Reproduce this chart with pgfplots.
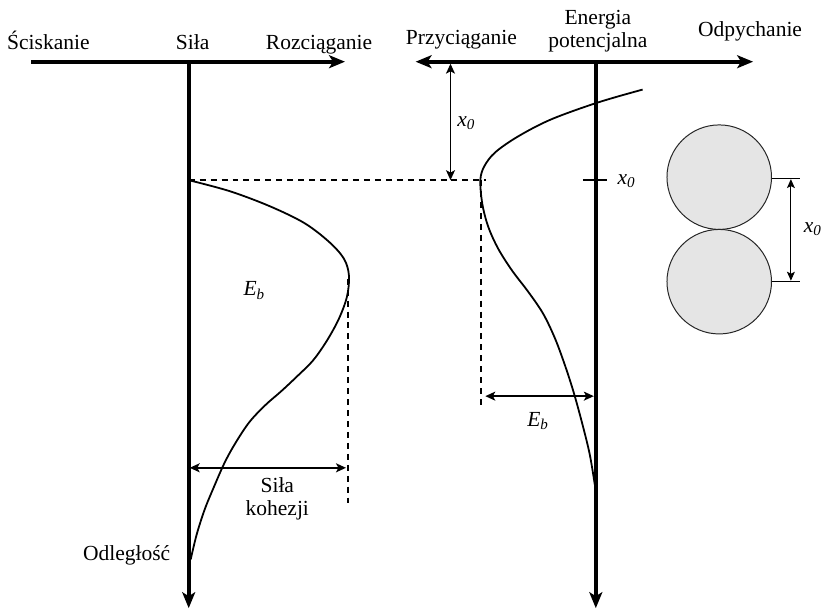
\documentclass[border=0pt]{standalone}
\usepackage{fontspec}
\setmainfont{Liberation Serif}
\usepackage{pgfplots}
\pgfplotsset{compat=1.18}
\usetikzlibrary{arrows.meta}
\begin{document}
\fontsize{10.8}{13}\selectfont
\begin{tikzpicture}
\begin{axis}[
  width=414.5pt, height=307pt, scale only axis,
  xmin=0, xmax=829, ymin=0, ymax=614, y dir=reverse,
  axis lines=none, clip=false,
  every node/.append style={font=\fontsize{10.8}{13}\selectfont, inner sep=1pt},
]
\tikzset{
  bigarrow/.style={line width=2pt, -{Stealth[length=8pt,width=6.5pt,inset=2pt]}},
  bigboth/.style={line width=2pt, {Stealth[length=8pt,width=6.5pt,inset=2pt]}-{Stealth[length=8pt,width=6.5pt,inset=2pt]}},
  smallboth/.style={line width=0.8pt, {Stealth[length=5pt,width=4.5pt,inset=1.2pt]}-{Stealth[length=5pt,width=4.5pt,inset=1.2pt]}},
  mydash/.style={line width=0.9pt, dash pattern=on 3pt off 2.5pt},
}
\path[draw=none] (axis cs:0,0) rectangle (axis cs:829,614);
% ---------- left diagram ----------
\addplot[bigarrow, mark=none] coordinates {(31,62) (346,62)};
\addplot[bigarrow, mark=none] coordinates {(189,61) (189,611)};
\addplot[mydash, mark=none] coordinates {(189,181) (488,181)};
\addplot[mydash, mark=none] coordinates {(349,280) (349,505)};
\addplot[line width=0.9pt, smooth, mark=none, tension=0.55] coordinates {
 (189,181) (230,192) (270,207) (305,224) (330,243) (345,260) (350,277)
 (348,298) (340,320) (328,342) (314,362) (298,378) (282,393) (266,407)
 (250,424) (236,445) (225,465) (214,490) (205,512) (197,537) (191,562)};
\addplot[smallboth, mark=none] coordinates {(190,470) (347,470)};
\node[anchor=base] at (axis cs:48,50) {Ściskanie};
\node[anchor=base] at (axis cs:193,50) {Siła};
\node[anchor=base] at (axis cs:320,50) {Rozciąganie};
\node at (axis cs:255,292) {\textit{E}\textsubscript{\textit{b}}};
\node[anchor=base] at (axis cs:278,495) {Siła};
\node[anchor=base] at (axis cs:278,518) {kohezji};
\node[anchor=base east] at (axis cs:178,563) {Odległość};
% ---------- right diagram ----------
\addplot[bigboth, mark=none] coordinates {(417,62) (756,62)};
\addplot[bigarrow, mark=none] coordinates {(598,61) (598,611)};
\addplot[mydash, mark=none] coordinates {(483,181) (483,407)};
\addplot[line width=0.8pt, mark=none] coordinates {(585,181) (609,181)};
\addplot[smallboth, mark=none] coordinates {(452,64) (452,181)};
\addplot[smallboth, mark=none] coordinates {(487,398) (596,398)};
\addplot[line width=0.9pt, smooth, mark=none, tension=0.55] coordinates {
 (645,90) (600,103) (553,120) (520,137) (497,153) (486,167) (482,181)
 (484,205) (490,228) (500,250) (514,272) (530,293) (545,315) (557,340)
 (567,367) (576,395) (585,428) (592,457) (597,487)};
\node[anchor=base] at (axis cs:463,45) {Przyciąganie};
\node[anchor=base] at (axis cs:600,25) {Energia};
\node[anchor=base] at (axis cs:600,48) {potencjalna};
\node[anchor=base] at (axis cs:753,37) {Odpychanie};
\node at (axis cs:468,124) {\textit{x}\textsubscript{\textit{0}}};
\node at (axis cs:629,182) {\textit{x}\textsubscript{\textit{0}}};
\node at (axis cs:540,423) {\textit{E}\textsubscript{\textit{b}}};
% ---------- spheres ----------
\addplot[only marks, mark=*, mark size=26.25pt,
  mark options={fill=black!10, draw=black!85, line width=0.5pt}]
  coordinates {(722,178) (722,283)};
\addplot[line width=0.5pt, mark=none] coordinates {(774,179) (803,179)};
\addplot[line width=0.5pt, mark=none] coordinates {(774,283) (803,283)};
\addplot[line width=0.5pt, {Stealth[length=4.5pt,width=4pt,inset=1pt]}-{Stealth[length=4.5pt,width=4pt,inset=1pt]}, mark=none] coordinates {(794,180) (794,282)};
\node at (axis cs:816,230) {\textit{x}\textsubscript{\textit{0}}};
\end{axis}
\end{tikzpicture}
\end{document}
